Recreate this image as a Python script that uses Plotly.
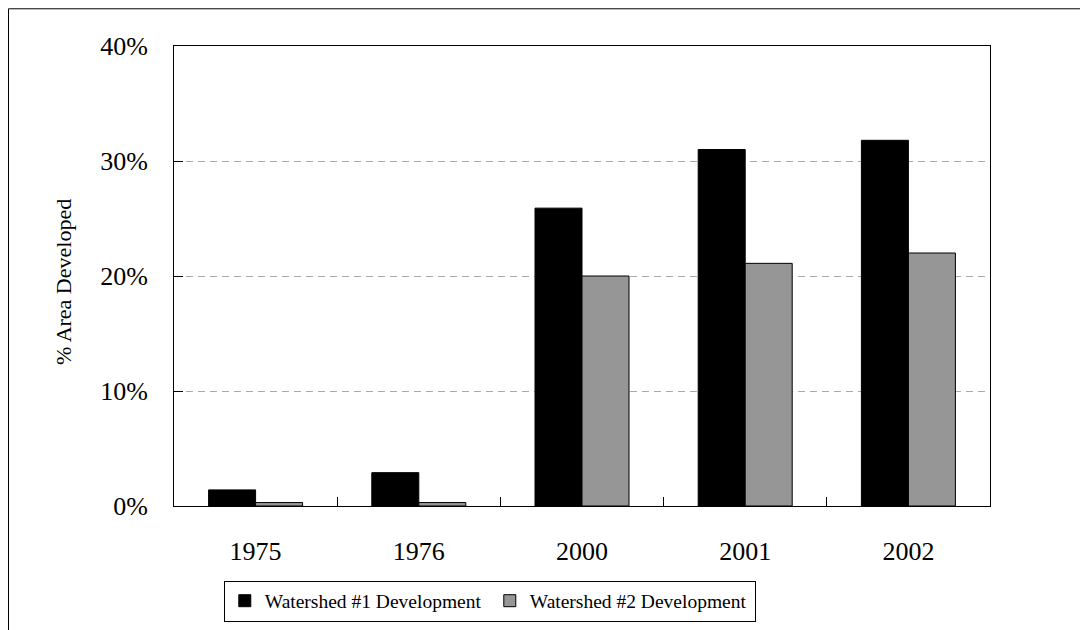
import plotly.graph_objects as go

years = ["1975", "1976", "2000", "2001", "2002"]
watershed1 = [0.014, 0.029, 0.259, 0.310, 0.318]
watershed2 = [0.003, 0.003, 0.200, 0.211, 0.220]
series_names = ["Watershed #1 Development", "Watershed #2 Development"]
y_ticks = [0, 0.1, 0.2, 0.3, 0.4]

FONT = "Liberation Serif, Times New Roman, serif"

fig = go.Figure()
fig.add_trace(go.Bar(x=years, y=watershed1, name=series_names[0],
                     marker=dict(color="black", line=dict(color="black", width=1))))
fig.add_trace(go.Bar(x=years, y=watershed2, name=series_names[1],
                     marker=dict(color="rgb(150,150,150)", line=dict(color="black", width=1))))

fig.update_layout(
    width=1080, height=622,
    margin=dict(l=166, r=98, t=38, b=124, autoexpand=False),
    paper_bgcolor="white", plot_bgcolor="white",
    font=dict(family=FONT, color="black", size=26),
    barmode="group", bargap=0.424, bargroupgap=0,
    showlegend=True,
    legend=dict(orientation="h", x=0.387, y=-0.162, xanchor="center", yanchor="top",
                bordercolor="black", borderwidth=1, bgcolor="white",
                font=dict(family=FONT, size=19.5, color="black"),
                itemwidth=30, entrywidth=220, entrywidthmode="pixels",
                traceorder="normal", tracegroupgap=0),
    xaxis=dict(type="category", showline=True, linecolor="black", linewidth=1, mirror=True,
               ticks="inside", ticklen=9, tickcolor="black", tickson="boundaries",
               showgrid=False, tickfont=dict(size=26), ticklabelstandoff=22),
    yaxis=dict(range=[0, 0.4], tickvals=y_ticks, tickformat=".0%",
               showline=True, linecolor="black", linewidth=1, mirror=True,
               ticks="inside", ticklen=9, tickcolor="black",
               showgrid=True, gridcolor="rgb(170,170,170)", gridwidth=1, griddash="7px,5px",
               zeroline=False, tickfont=dict(size=26), ticklabelstandoff=20),
    shapes=[dict(type="rect", xref="paper", yref="paper",
                 x0=-0.2028, x1=1.2, y0=-0.4, y1=1.0809,
                 line=dict(color="black", width=1), fillcolor="rgba(0,0,0,0)", layer="below")],
    annotations=[dict(text="% Area Developed", xref="paper", yref="paper",
                      x=-0.1348, y=0.487, xanchor="center", yanchor="middle",
                      textangle=-90, showarrow=False, font=dict(family=FONT, size=22, color="black"))],
)

fig.write_html("out.html")
